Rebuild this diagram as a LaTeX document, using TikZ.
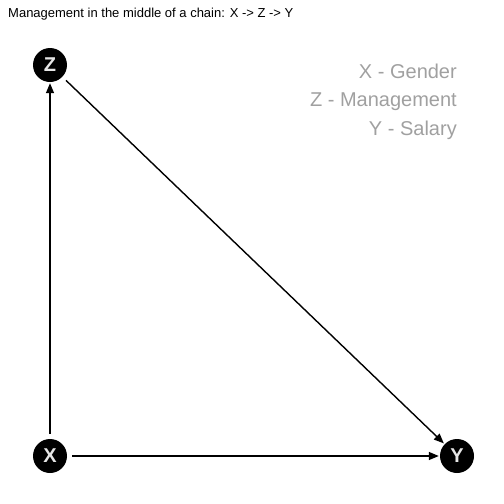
\documentclass[tikz,border=0pt]{standalone}
\usepackage{fontspec}
\setmainfont{Liberation Sans}
\usetikzlibrary{arrows.meta}
\definecolor{legendgray}{HTML}{A0A0A0}
\definecolor{labelgray}{HTML}{E6E6E6}
\begin{document}
\begin{tikzpicture}[x=1pt,y=-1pt,
  varnode/.style={circle,fill=black,minimum size=34pt,inner sep=0pt,text=labelgray,font=\fontsize{20}{20}\selectfont\bfseries},
  edge/.style={line width=1.4pt,-{Triangle[length=10pt,width=8pt]},shorten >=1pt,shorten <=5pt},
  legend/.style={anchor=base east,text=legendgray,font=\fontsize{20}{20}\selectfont,inner sep=0pt}]
\useasboundingbox (0,0) rectangle (504,504);
\node[anchor=base west,inner sep=0pt,font=\fontsize{13}{13}\selectfont] (title) at (8,17) {Management in the middle of a chain: X -> Z -> Y};
\node[varnode] (Z) at (50,65) {Z};
\node[varnode] (X) at (50,456) {X};
\node[varnode] (Y) at (457,456) {Y};
\draw[edge] (X) -- (Z);
\draw[edge] (X) -- (Y);
\draw[edge] (Z) -- (Y);
\node[legend] (l1) at (457,78) {X - Gender};
\node[legend] (l2) at (457,106) {Z - Management};
\node[legend] (l3) at (457,135) {Y - Salary};
\end{tikzpicture}
\end{document}
